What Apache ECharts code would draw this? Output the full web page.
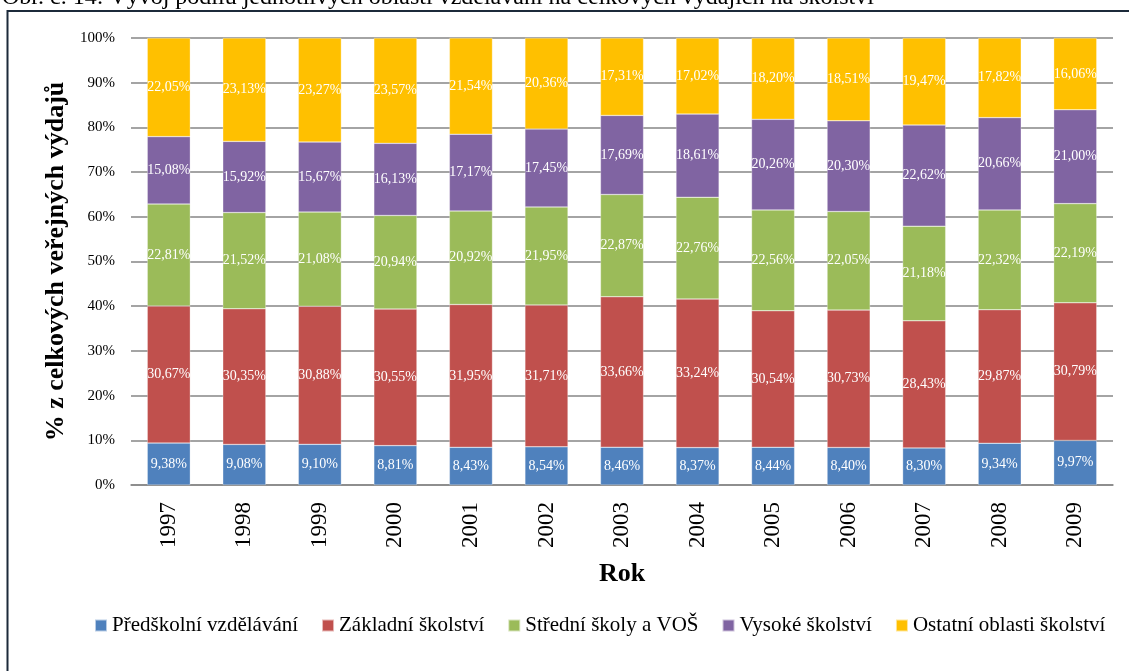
<!DOCTYPE html>
<html>
<head>
<meta charset="utf-8">
<title>Vývoj podílu oblastí vzdělávání</title>
<script src="https://cdn.jsdelivr.net/npm/echarts@6/dist/echarts.min.js"></script>
<style>
  html, body { margin: 0; padding: 0; background: #fff; }
  #chart { width: 1129px; height: 671px; }
</style>
</head>
<body>
<div id="chart"></div>
<script>
// roky
const years = ["1997", "1998", "1999", "2000", "2001", "2002", "2003", "2004", "2005", "2006", "2007", "2008", "2009"];

// podíly v % (čteno z grafu)
const predskolni = [9.38, 9.08, 9.10, 8.81, 8.43, 8.54, 8.46, 8.37, 8.44, 8.40, 8.30, 9.34, 9.97];
const zakladni = [30.67, 30.35, 30.88, 30.55, 31.95, 31.71, 33.66, 33.24, 30.54, 30.73, 28.43, 29.87, 30.79];
const stredni = [22.81, 21.52, 21.08, 20.94, 20.92, 21.95, 22.87, 22.76, 22.56, 22.05, 21.18, 22.32, 22.19];
const vysoke = [15.08, 15.92, 15.67, 16.13, 17.17, 17.45, 17.69, 18.61, 20.26, 20.30, 22.62, 20.66, 21.00];
const ostatni = [22.05, 23.13, 23.27, 23.57, 21.54, 20.36, 17.31, 17.02, 18.20, 18.51, 19.47, 17.82, 16.06];

const yTicks = [0, 10, 20, 30, 40, 50, 60, 70, 80, 90, 100];

const serif = "Liberation Serif";

const chart = echarts.init(document.getElementById("chart"));

function mkSeries(name, data, color) {
  return {
    name: name,
    type: "bar",
    stack: "total",
    barWidth: "57%",
    data: data,
    itemStyle: { color: color, borderColor: "rgba(255,255,255,0.6)", borderWidth: 0.5 },
    label: {
      show: true,
      position: "inside",
      color: "#fff",
      fontFamily: serif,
      fontSize: 14,
      formatter: (p) => p.value.toFixed(2).replace(".", ",") + "%",
    },
  };
}

let option = {
  animation: false,
  backgroundColor: "#fff",
  textStyle: { fontFamily: serif },
  graphic: [
    {
      type: "rect",
      shape: { x: 7.5, y: 11, width: 1200, height: 700 },
      style: { fill: "none", stroke: "#1c2a3a", lineWidth: 2 },
      silent: true,
    },
    {
      type: "text",
      left: 2,
      top: -14,
      style: {
        text: "Obr. č. 14: Vývoj podílu jednotlivých oblastí vzdělávání na celkových výdajích na školství",
        font: "24px 'Liberation Serif'",
        fill: "#000",
      },
    },
  ],
  legend: {
    top: 610,
    left: 89,
    itemWidth: 12,
    itemHeight: 12,
    itemGap: 23,
    icon: "rect",
    textStyle: { fontFamily: serif, fontSize: 21, color: "#000" },
    data: ["Předškolní vzdělávání", "Základní školství", "Střední školy a VOŠ", "Vysoké školství", "Ostatní oblasti školství"],
  },
  grid: {
    left: 131,
    right: 16,
    top: 38,
    bottom: 186,
  },
  xAxis: {
    type: "category",
    data: years,
    name: "Rok",
    nameLocation: "middle",
    nameGap: 76,
    nameTextStyle: { fontFamily: serif, fontSize: 26, fontWeight: "bold", color: "#000" },
    axisTick: { show: false },
    axisLine: { lineStyle: { color: "#868686", width: 1.5 } },
    axisLabel: {
      rotate: 90,
      margin: 17,
      fontFamily: serif,
      fontSize: 23,
      color: "#000",
    },
  },
  yAxis: {
    type: "value",
    min: yTicks[0],
    max: yTicks[yTicks.length - 1],
    interval: 10,
    name: "% z celkových veřejných výdajů",
    nameLocation: "middle",
    nameGap: 61,
    nameTextStyle: { fontFamily: serif, fontSize: 26, fontWeight: "bold", color: "#000" },
    axisLine: { show: false },
    axisTick: { show: false },
    splitLine: { lineStyle: { color: "#868686", width: 1.5 } },
    axisLabel: {
      margin: 16,
      fontFamily: serif,
      fontSize: 15,
      color: "#000",
      formatter: "{value}%",
    },
  },
  series: [
    mkSeries("Předškolní vzdělávání", predskolni, "#4F81BD"),
    mkSeries("Základní školství", zakladni, "#C0504D"),
    mkSeries("Střední školy a VOŠ", stredni, "#9BBB59"),
    mkSeries("Vysoké školství", vysoke, "#8064A2"),
    mkSeries("Ostatní oblasti školství", ostatni, "#FFC000"),
  ],
};

chart.setOption(option);
</script>
</body>
</html>
